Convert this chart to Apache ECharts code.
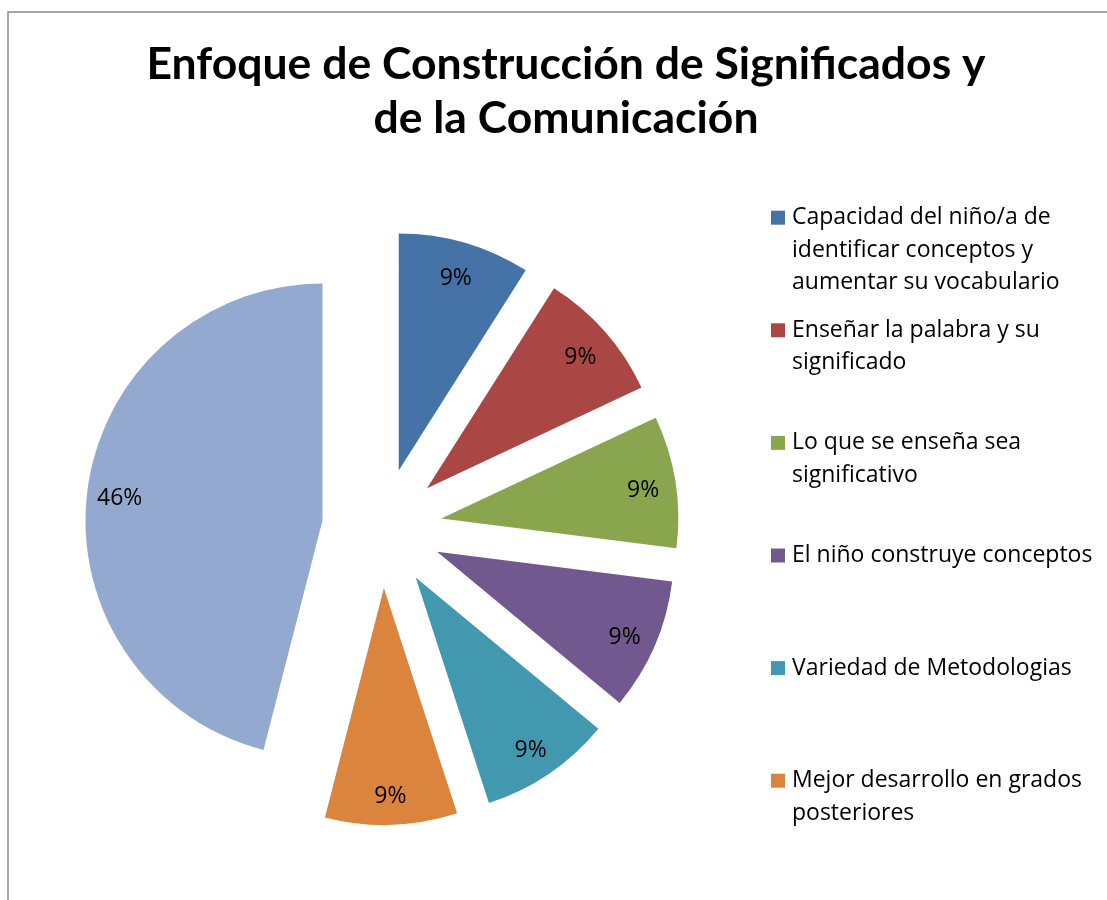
<!DOCTYPE html>
<html>
<head>
<meta charset="utf-8">
<script src="https://cdn.jsdelivr.net/npm/echarts@6/dist/echarts.min.js"></script>
<style>
html,body{margin:0;padding:0;background:#fff;}
#chart{width:1107px;height:900px;}
</style>
</head>
<body>
<div id="chart"></div>
<script>
var titleText = 'Enfoque de Construcción de Significados y\nde la Comunicación';
var categories = [
  'Capacidad del niño/a de\nidentificar conceptos y\naumentar su vocabulario',
  'Enseñar la palabra y su\nsignificado',
  'Lo que se enseña sea\nsignificativo',
  'El niño construye conceptos',
  'Variedad de Metodologias',
  'Mejor desarrollo en grados\nposteriores',
  ''
];
var values = [9, 9, 9, 9, 9, 9, 46];
var colors = ['#4572A7', '#AA4643', '#89A54E', '#71588F', '#4198AF', '#DB843D', '#93A9CF'];
var legendNames = categories.slice(0, 6);

var TITLE_FONT = 'Lato';
var FONT = '"Open Sans"';
var R = 237;
var CENTER = [382, 528];
var LABEL_CENTER = [382, 532];
var OFFSET = 60;

var mainData = categories.map(function (c, i) {
  return { name: c, value: values[i], selected: true, itemStyle: { color: colors[i] } };
});
var labelData = categories.map(function (c, i) {
  return { name: c, value: values[i], selected: true };
});

var chart = echarts.init(document.getElementById('chart'), null, { renderer: 'canvas' });
chart.setOption({
  animation: false,
  backgroundColor: '#ffffff',
  title: {
    text: titleText,
    left: 566,
    top: 37,
    padding: 0,
    textAlign: 'center',
    textStyle: { fontFamily: TITLE_FONT, fontWeight: 'bold', fontSize: 44.5, lineHeight: 54.5, color: '#000' }
  },
  legend: {
    orient: 'vertical',
    left: 771,
    top: 132.7,
    padding: 0,
    itemWidth: 14,
    itemHeight: 14,
    itemGap: -57.4,
    icon: 'rect',
    data: legendNames,
    selectedMode: false,
    formatter: function (name) {
      var n = name.split('\n').length;
      return new Array(n).join('\n') + name;
    },
    textStyle: {
      fontFamily: FONT, fontSize: 23, lineHeight: 32.5, color: '#000',
      height: 170, padding: [0, 0, 0, 2], backgroundColor: 'rgba(0,0,0,0)'
    }
  },
  graphic: [{
    type: 'rect', silent: true, z: -1,
    shape: { x: 8, y: 12, width: 1300, height: 1000 },
    style: { fill: 'none', stroke: '#878787', lineWidth: 1.4 }
  }],
  series: [{
    type: 'pie',
    center: CENTER,
    radius: [0, R],
    startAngle: 90,
    clockwise: true,
    selectedMode: 'multiple',
    selectedOffset: OFFSET,
    avoidLabelOverlap: false,
    label: { show: false },
    labelLine: { show: false },
    emphasis: { disabled: true },
    data: mainData
  }, {
    type: 'pie',
    center: LABEL_CENTER,
    radius: [R * 0.7, R],
    startAngle: 90,
    clockwise: true,
    silent: true,
    legendHoverLink: false,
    selectedMode: 'multiple',
    selectedOffset: OFFSET,
    avoidLabelOverlap: false,
    itemStyle: { color: 'rgba(0,0,0,0)' },
    label: {
      show: true, position: 'inside', color: '#000',
      fontFamily: FONT, fontSize: 23,
      formatter: function (p) { return Math.round(p.percent) + '%'; }
    },
    labelLine: { show: false },
    emphasis: { disabled: true },
    data: labelData
  }]
});
</script>
</body>
</html>
